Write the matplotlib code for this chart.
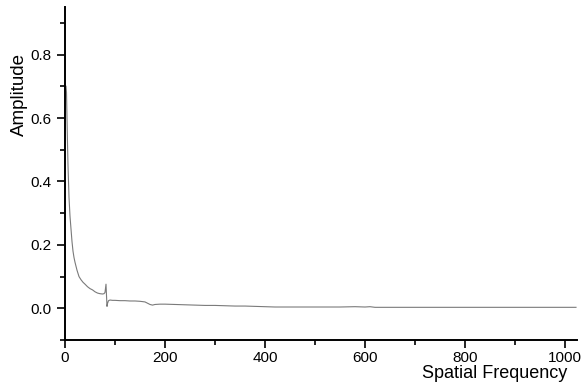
import matplotlib
matplotlib.use("Agg")
import matplotlib.pyplot as plt
from matplotlib.ticker import MultipleLocator

plt.rcParams["font.family"] = ["Liberation Sans", "DejaVu Sans"]

# spectrum
freq = [2, 3, 4, 5, 6, 8, 10, 12, 14, 16, 18, 20, 24, 28, 32, 36, 40, 45, 50, 55,
        60, 65, 70, 75, 78, 80, 82, 83, 84, 85, 87, 90, 95, 100, 110, 120, 130, 140,
        150, 160, 165, 170, 175, 180, 190, 200, 220, 240, 260, 280, 300, 320, 340,
        360, 380, 400, 420, 450, 500, 550, 580, 600, 610, 620, 650, 700, 800, 900, 1022]
amp = [0.70, 0.68, 0.60, 0.52, 0.45, 0.35, 0.29, 0.25, 0.21, 0.18, 0.16, 0.145,
       0.12, 0.10, 0.09, 0.082, 0.076, 0.068, 0.062, 0.058, 0.052, 0.048, 0.046,
       0.045, 0.046, 0.050, 0.076, 0.040, 0.006, 0.015, 0.024, 0.026, 0.025,
       0.025, 0.024, 0.024, 0.023, 0.023, 0.022, 0.020, 0.016, 0.012, 0.010,
       0.012, 0.013, 0.013, 0.012, 0.011, 0.010, 0.009, 0.009, 0.008, 0.007,
       0.007, 0.006, 0.005, 0.004, 0.004, 0.004, 0.004, 0.005, 0.004, 0.005,
       0.003, 0.003, 0.003, 0.003, 0.003, 0.003]

fig = plt.figure(figsize=(5.83, 3.83), dpi=100)
ax = fig.add_axes([0.1115, 0.1123, 0.8782, 0.8694])

ax.plot(freq, amp, color="#7a7a7a", lw=0.8)

ax.set_xlim(0, 1024)
ax.set_ylim(-0.1, 0.95)
ax.xaxis.set_major_locator(MultipleLocator(200))
ax.xaxis.set_minor_locator(MultipleLocator(100))
ax.yaxis.set_major_locator(MultipleLocator(0.2))
ax.yaxis.set_minor_locator(MultipleLocator(0.1))
ax.yaxis.set_major_formatter(plt.FuncFormatter(lambda v, p: "%.1f" % v))

for s in ["top", "right"]:
    ax.spines[s].set_visible(False)
for s in ["left", "bottom"]:
    ax.spines[s].set_linewidth(1.4)

ax.tick_params(which="major", direction="out", length=6, width=1.2, labelsize=11, pad=2)
ax.tick_params(which="minor", direction="out", length=3.5, width=1.2)
ax.tick_params(axis="y", which="major", pad=4)

ax.set_ylabel("Amplitude", fontsize=13.5)
ax.yaxis.set_label_coords(-0.072, 0.736)
ax.set_xlabel("Spatial Frequency", fontsize=13, ha="right", va="top")
ax.xaxis.set_label_coords(0.980, -0.074)

fig.savefig("out.png", dpi=100)
